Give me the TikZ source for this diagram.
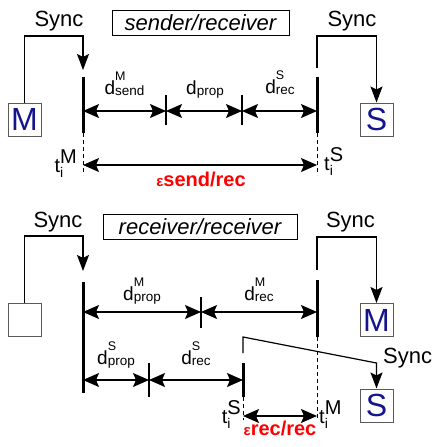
\documentclass[tikz,border=0pt]{standalone}
\usepackage{fontspec}
\setmainfont{Liberation Sans}
\usetikzlibrary{arrows.meta}
\definecolor{boxblue}{RGB}{20,20,140}
\definecolor{boxgray}{RGB}{90,90,90}
\newcommand{\dlab}[2]{\fontsize{19}{19}\selectfont d\rlap{\raisebox{14pt}{\fontsize{12.5}{12.5}\selectfont #2}}\raisebox{-1.5pt}{\fontsize{13.5}{13.5}\selectfont #1}}
\newcommand{\tlab}[1]{\fontsize{20}{20}\selectfont t\rlap{\raisebox{-5pt}{\fontsize{14}{14}\selectfont i}}\raisebox{9pt}{#1}}
\newcommand{\epslab}[1]{\textcolor{red}{\bfseries\fontsize{15}{15}\selectfont ε\fontsize{20}{20}\selectfont #1}}
\tikzset{
  thin line/.style={line width=1.2pt},
  thick line/.style={line width=3pt},
  dash line/.style={line width=1pt, dash pattern=on 4pt off 3pt},
  arr/.style={thin line, -{Stealth[length=16pt,width=12pt,inset=3pt]}},
  darr/.style={thin line, {Stealth[length=16pt,width=14pt,inset=3pt]}-{Stealth[length=16pt,width=14pt,inset=3pt]}},
  letterbox/.style={draw=boxgray, line width=1pt, minimum size=33pt, inner sep=0pt, text=boxblue, font=\fontsize{32}{32}\selectfont},
  titlebox/.style={draw, line width=1pt, minimum height=25pt, inner sep=0pt, font=\itshape\fontsize{22}{22}\selectfont},
  synclab/.style={inner sep=0pt, font=\fontsize{22}{22}\selectfont},
  lab/.style={inner sep=0pt}
}
\begin{document}
\begin{tikzpicture}[x=1pt,y=-1pt]
\useasboundingbox (0,0) rectangle (433,447);
% ================= TOP: sender/receiver =================
\node[titlebox, minimum width=177pt] (t1) at (200.5,22.5) {sender/receiver};
\node[letterbox] (Mtop) at (24.5,119.5) {M};
\node[letterbox] (Stop) at (376.5,119.5) {S};
\node[synclab, anchor=base] (sync1) at (59,26) {Sync};
\node[synclab, anchor=base] (sync2) at (352,27) {Sync};
% time lines
\coordinate (A0) at (83,77); \coordinate (A1) at (83,133); \coordinate (A2) at (83,175);
\coordinate (B0) at (317,77); \coordinate (B1) at (317,133); \coordinate (B2) at (317,175);
\draw[thick line] (A0) -- (A1);
\draw[dash line] (A1) -- (A2);
\draw[thick line] (B0) -- (B1);
\draw[dash line] (B1) -- (B2);
% sync connectors
\coordinate (As) at (83,70);
\coordinate (Bs) at (317,68);
\draw[arr] (Mtop.north) |- (83,36) -- (As);
\draw[arr] (Bs) |- (376.5,36) -- (Stop.north);
% delay arrows
\coordinate (r1a) at (83,111); \coordinate (r1b) at (166,111);
\coordinate (r1c) at (242,111); \coordinate (r1d) at (317,111);
\draw[thin line] (166,95) -- (166,125);
\draw[thin line] (242,95) -- (242,125);
\draw[darr] (r1a) -- (r1b);
\draw[darr] (r1b) -- (r1c);
\draw[darr] (r1c) -- (r1d);
\node[lab, anchor=base] (dsend) at (124.5,94) {\dlab{send}{M}};
\node[lab, anchor=base] (dprop) at (205,94) {\dlab{prop}{}};
\node[lab, anchor=base] (drec) at (280,93) {\dlab{rec}{S}};
% epsilon
\coordinate (e1a) at (83,165); \coordinate (e1b) at (317,165);
\draw[darr] (e1a) -- (e1b);
\node[lab, anchor=base] (eps1) at (201,186) {\epslab{send/rec}};
\node[lab, anchor=base east] (tM1) at (77,172) {\tlab{M}};
\node[lab, anchor=base west] (tS1) at (324,170) {\tlab{S}};
% ================= BOTTOM: receiver/receiver =================
\node[titlebox, minimum width=194pt] (t2) at (200,226.5) {receiver/receiver};
\node[letterbox, text=black] (Ebox) at (24.5,319.5) {};
\node[letterbox] (Mbot) at (376.5,320) {M};
\node[letterbox] (Sbot) at (376.5,405.5) {S};
\node[synclab, anchor=base] (sync3) at (58,227) {Sync};
\node[synclab, anchor=base] (sync4) at (350.5,227) {Sync};
\node[synclab, anchor=base west] (sync5) at (383,363) {Sync};
% time lines
\coordinate (C0) at (83,282); \coordinate (C1) at (83,393);
\coordinate (D0) at (317,280); \coordinate (D1) at (317,337); \coordinate (D2) at (317,420);
\coordinate (F0) at (243,363); \coordinate (F1) at (243,397); \coordinate (F2) at (243,420);
\draw[thick line] (C0) -- (C1);
\draw[thick line] (D0) -- (D1);
\draw[dash line] (D1) -- (D2);
\draw[thick line] (F0) -- (F1);
\draw[dash line] (F1) -- (F2);
% sync connectors
\coordinate (Cs) at (83,271);
\coordinate (Ds) at (317,270);
\coordinate (Fs) at (243,353);
\draw[arr] (Ebox.north) |- (83,236) -- (Cs);
\draw[arr] (Ds) |- (376.5,237) -- (Mbot.north);
\draw[arr] (Fs) -- (243,337) -- (376.5,363) -- (Sbot.north);
% delay arrows row 1
\coordinate (q1a) at (83,312); \coordinate (q1b) at (201,312); \coordinate (q1c) at (317,312);
\draw[thin line] (201,297) -- (201,328);
\draw[darr] (q1a) -- (q1b);
\draw[darr] (q1b) -- (q1c);
\node[lab, anchor=base] (dpropM) at (142,300) {\dlab{prop}{M}};
\node[lab, anchor=base] (drecM) at (259,300) {\dlab{rec}{M}};
% delay arrows row 2
\coordinate (q2a) at (83,380); \coordinate (q2b) at (149,380); \coordinate (q2c) at (243,380);
\draw[thin line] (149,363) -- (149,397);
\draw[darr] (q2a) -- (q2b);
\draw[darr] (q2b) -- (q2c);
\node[lab, anchor=base] (dpropS) at (116,364) {\dlab{prop}{S}};
\node[lab, anchor=base] (drecS) at (196,364) {\dlab{rec}{S}};
% epsilon
\coordinate (e2a) at (243,416); \coordinate (e2b) at (317,416);
\draw[darr] (e2a) -- (e2b);
\node[lab, anchor=base] (eps2) at (280,435) {\epslab{rec/rec}};
\node[lab, anchor=base east] (tS2) at (241,423) {\tlab{S}};
\node[lab, anchor=base west] (tM2) at (319,423) {\tlab{M}};
\end{tikzpicture}
\end{document}
